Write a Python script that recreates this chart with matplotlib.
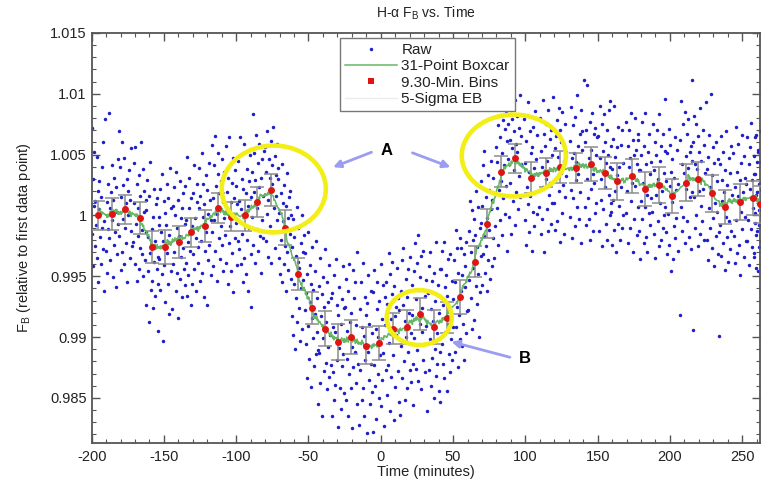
import matplotlib
matplotlib.use("Agg")
import matplotlib.pyplot as plt
import numpy as np
from matplotlib.patches import Ellipse
from matplotlib.lines import Line2D
from matplotlib.ticker import MultipleLocator, FuncFormatter

plt.rcParams["font.family"] = ["Liberation Sans", "DejaVu Sans"]
plt.rcParams["mathtext.fontset"] = "custom"
plt.rcParams["mathtext.rm"] = "Liberation Sans"
plt.rcParams["axes.unicode_minus"] = False

# 9.30-minute bins (time in minutes, relative flux, 5-sigma half error)
bin_times = [-195.6, -186.0, -176.7, -166.8, -158.0, -149.5, -139.8, -131.0, -121.8, -112.6,
             -103.3, -94.1, -85.3, -75.6, -66.4, -57.2, -47.9, -38.8, -29.6, -20.3,
             -10.4, -1.1, 8.3, 17.8, 27.0, 36.7, 45.7, 55.1, 65.0, 73.8,
             83.5, 92.8, 103.7, 114.2, 123.9, 135.0, 145.1, 155.0, 163.3, 174.0,
             182.7, 192.4, 201.2, 211.1, 219.7, 229.4, 238.4, 248.4, 257.7, 262.3]
bin_flux = [1.0000, 1.0001, 1.0005, 0.9998, 0.9974, 0.9974, 0.9978, 0.9986, 0.9991, 1.0006,
            0.9999, 1.0000, 1.0011, 1.0021, 0.9990, 0.9952, 0.9924, 0.9907, 0.9896, 0.9900,
            0.9893, 0.9895, 0.9907, 0.9908, 0.9919, 0.9908, 0.9916, 0.9933, 0.9962, 0.9993,
            1.0036, 1.0047, 1.0031, 1.0035, 1.0040, 1.0039, 1.0042, 1.0035, 1.0028, 1.0032,
            1.0022, 1.0025, 1.0016, 1.0027, 1.0030, 1.0018, 1.0007, 1.0011, 1.0014, 1.0009]
bin_err = [0.0012, 0.0013, 0.0012, 0.0013, 0.0013, 0.0014, 0.0013, 0.0012, 0.0013, 0.0012,
           0.0012, 0.0013, 0.0012, 0.0013, 0.0014, 0.0013, 0.0013, 0.0014, 0.0015, 0.0014,
           0.0015, 0.0014, 0.0013, 0.0014, 0.0013, 0.0014, 0.0013, 0.0014, 0.0013, 0.0012,
           0.0013, 0.0012, 0.0013, 0.0012, 0.0013, 0.0012, 0.0014, 0.0013, 0.0015, 0.0014,
           0.0014, 0.0015, 0.0014, 0.0015, 0.0014, 0.0015, 0.0014, 0.0015, 0.0014, 0.0015]

# raw points, per bin, as offsets from the bin value in units of 1e-4
raw_offsets = [
    [72, -15, 30, -42, 8, 52, -25, 12, -8, 48, -35, 20, -55, 5, 28, -18, -40, 15, 40, -10, -28, 60, -5, -62],
    [78, -30, 10, -48, 25, -12, 83, -20, 5, -38, 18, -5, 40, -52, 12, -25, 30, -15, -60, 22, 2, -33, 45, -8],
    [64, -22, 35, -50, 10, 55, -35, -8, 20, -45, 42, -15, 5, -28, 25, -60, 15, -5, 32, -40, 8, -18, 50, -30],
    [-20, 45, 12, -38, 58, -5, -52, 28, -15, 8, 35, -42, -25, 18, 62, -10, -30, 40, -48, 5, 22, -35, 15, -12],
    [30, -48, 55, -20, 8, -62, 42, -5, 70, -35, 15, -28, 25, -50, 48, -12, 5, -40, 35, -18, 40, -8, -30, 18],
    [-69, 25, -10, 48, -35, 12, 60, -22, 5, -77, 38, -15, 28, -45, 18, 52, -5, -30, 40, -55, 10, 65, -20, 32],
    [-55, 30, -18, 45, -8, 22, -40, 58, -25, 12, -62, 35, 5, -30, 50, -12, 20, -45, 28, -5, 40, -22, 15, -35],
    [38, -25, 10, -52, 62, -8, -35, 20, 45, -15, -60, 28, 5, -42, 32, -18, 55, -30, 12, -5, -48, 25, 40, -12],
    [-30, 48, 15, -45, 25, -12, 60, -38, 8, 35, -58, 18, -20, 42, -5, -65, 30, 10, -28, 52, -15, 22, -40, 5],
    [52, -20, 8, -48, 35, -10, 59, -35, 18, -5, -60, 28, 45, -25, 12, -42, 22, -15, 40, -30, 5, -52, 30, -8],
    [-15, 58, -38, 20, 5, -55, 32, -22, 65, -8, 12, -45, 28, -30, 48, -62, 15, 38, -18, -5, 25, -40, 10, -20],
    [45, -28, 12, 64, -40, 5, -15, 30, -55, 22, 59, -35, -8, 18, -48, 38, -20, 8, -62, 28, -10, 50, -32, 15],
    [-86, 25, -12, 72, -35, 40, 8, -50, 18, 55, -22, -5, 32, -40, 12, 48, -28, 20, -58, 35, -15, 5, -30, 42],
    [35, -42, 15, -20, 48, -8, -55, 25, 10, -30, 40, -60, 20, 5, -35, 52, -15, 28, -48, 12, -5, 38, -25, 18],
    [40, -25, 12, -38, 28, -10, 52, -45, 5, 20, -30, 35, -15, -52, 18, 45, -20, 8, -35, 25, -5, 30, -42, 10],
    [-35, 22, -50, 45, -8, 30, -62, 15, -20, 55, -40, 10, 38, -28, 5, -55, 25, -12, 48, -45, 18, -5, 32, -30],
    [45, -30, 12, -58, 28, -15, 62, -42, 5, 35, -65, 20, -8, 50, -25, 15, -48, 30, -5, -38, 55, -20, 8, -35],
    [-62, 35, -20, 58, -45, 10, 28, -72, 42, -8, 18, -35, 65, -28, 5, -50, 38, -15, 22, -40, 52, -5, -30, 25],
    [-61, 40, -25, 12, 55, -48, 8, -35, 68, -15, 30, -70, 22, -5, 45, -38, 15, -55, 35, -20, 62, -10, -42, 28],
    [25, -52, 48, -18, 5, -65, 38, -30, 60, 12, -42, 20, -8, -75, 55, -25, 32, -12, 45, -38, 10, -55, 70, -22],
    [-65, 30, -20, 52, -45, 15, 68, -35, 8, -58, 40, -12, 25, -72, 35, -5, 58, -28, 18, -48, 45, -15, 10, -38],
    [-73, 42, -18, 60, -35, 12, -62, 28, 50, -25, 5, -45, 35, -10, 65, -52, 20, -30, 48, -8, -68, 38, 15, -22],
    [38, -55, 20, -30, 62, -12, 45, -68, 8, -40, 28, 55, -22, -75, 35, 10, -48, 18, -5, 50, -35, 25, -60, 15],
    [-72, 30, -15, 55, -42, 18, 65, -28, 5, -60, 40, -8, 25, -50, 48, -20, 12, -35, 58, -5, -45, 35, 10, -30],
    [-75, 35, -20, 58, -45, 12, 42, -30, 65, -55, 20, -8, 30, -62, 48, -15, 5, -38, 52, -25, 15, -48, 28, -10],
    [-69, 28, -35, 50, -10, 62, -48, 15, 38, -25, 5, -58, 45, -18, 22, -40, 70, -5, -30, 35, -52, 12, 48, -20],
    [-69, 40, -22, 55, -38, 10, 62, -50, 25, -12, 35, -60, 18, -5, 48, -30, 8, -45, 52, -18, 30, -35, 15, -8],
    [30, -45, 12, 55, -25, -8, 40, -58, 20, -15, 48, -35, 5, 40, -40, 18, -22, 35, -52, 8, 25, -30, 45, -12],
    [-40, 25, -15, 50, -30, 8, 42, -55, 18, -5, 35, -48, 22, -20, 58, -35, 12, -10, 45, -62, 28, -25, 5, 32],
    [35, -50, 15, -25, 48, -10, 60, -40, 22, -18, 5, -55, 40, -30, 28, -5, -45, 52, 12, -35, 20, -12, 38, -28],
    [-45, 20, 55, -30, 8, -60, 38, -15, 28, -40, 62, -8, 15, -52, 42, -22, 5, 35, -35, 48, -12, -65, 25, 10],
    [28, -48, 15, -20, 40, -62, 8, 32, -35, 22, -10, 48, -55, 12, -28, 35, 5, -42, 25, -15, 52, -32, 18, -5],
    [48, -35, 12, -55, 30, -8, 62, -22, 5, -45, 38, -15, 20, -60, 25, 42, -28, 8, -40, 55, -12, 15, -30, 35],
    [-28, 45, -50, 18, 5, -38, 60, -12, 32, -65, 22, -5, 40, -30, 10, -48, 52, -18, 28, -8, -42, 35, 15, -25],
    [57, -30, 15, -52, 25, -10, 38, -45, 8, 48, -20, -62, 30, -5, 20, -38, 45, -15, 5, -55, 35, -25, 12, -8],
    [-40, 22, 50, -18, 8, -58, 35, -25, 12, 42, -48, 5, -10, 60, -32, 18, -5, -42, 28, -20, 48, -62, 30, 15],
    [69, -35, 18, -50, 28, -12, 65, -28, 5, -45, 35, -62, 12, -20, 42, -8, -55, 25, -15, 30, -40, 8, -32, 22],
    [30, -48, 12, 55, -22, -5, 40, -60, 18, -30, 48, -12, 25, -42, 8, 35, -55, 15, -18, 52, -35, 5, -25, 22],
    [66, -25, 10, -52, 35, -15, 62, -40, 20, -8, -58, 28, 5, -35, 45, -20, 12, -48, 30, -5, -38, 42, -28, 15],
    [-30, 45, -12, 25, -55, 8, 38, -42, 15, 52, -20, -5, 30, -62, 18, -35, 48, -8, 22, -48, 10, 35, -25, 5],
    [40, -35, 15, -58, 28, -10, 55, -25, 5, -45, 35, -15, 62, -40, 20, -5, -52, 30, -20, 45, -30, 12, -8, 22],
    [-22, 50, -40, 12, 35, -60, 25, -8, 45, -30, 5, -50, 58, -15, 20, -45, 32, -5, 42, -35, 10, -25, 28, -18],
    [80, -30, 12, -48, 35, -15, 55, -40, 8, 42, -62, 20, -5, 30, -52, 15, -25, 48, -35, 5, -18, 38, -45, 10],
    [-109, 35, -20, 67, -40, 15, 48, -28, 8, 58, -50, 22, -5, 40, -32, 12, 52, -45, 25, -12, 30, -55, 18, -8],
    [81, -124, 30, -15, 52, -40, 12, 45, -30, 8, -55, 35, -10, 22, -45, 58, -22, 15, -35, 40, -8, -50, 28, 5],
    [75, -38, 20, -55, 30, -12, 48, -28, 5, 82, -45, 15, -20, 38, -60, 25, -8, -35, 42, -15, 10, -50, 28, -32],
    [-106, 35, -15, 58, -40, 22, 5, 45, -30, 12, -52, 30, -8, 62, -25, 18, -45, 40, -12, 28, -35, 50, -20, 10],
    [40, -28, 12, -50, 62, -15, 25, -42, 5, 48, -35, 18, -60, 32, -8, 55, -22, 8, -45, 38, -12, 20, -32, 15],
    [-35, 50, -18, 28, -55, 8, 42, -25, 62, -40, 15, -8, 35, -48, 20, -12, 52, -30, 5, -60, 38, 12, -22, 30],
    [25, -40, 55, -15, 8, -52, 35, -22, 45, -5, -35, 18, 60, -30, 12, -48, 28, -10, 40, -58, 20, -18, 5, 30],
]

BIN_WIDTH = 9.30
BOXCAR = 31

# assemble the raw series: points spread evenly over each bin
raw_t, raw_f = [], []
for tc, fc, offs in zip(bin_times, bin_flux, raw_offsets):
    n = len(offs)
    raw_t.extend(np.linspace(tc - BIN_WIDTH / 2, tc + BIN_WIDTH / 2, n, endpoint=False) + BIN_WIDTH / (2 * n))
    raw_f.extend(fc + np.array(offs) * 1e-4)
raw_t = np.array(raw_t)
raw_f = np.array(raw_f)

kernel = np.ones(BOXCAR) / BOXCAR
box_t = np.convolve(raw_t, kernel, mode="valid")
box_f = np.convolve(raw_f, kernel, mode="valid")

fig = plt.figure(figsize=(7.7, 4.83), dpi=100)
ax = fig.add_axes([0.119, 0.083, 0.868, 0.849])

ax.plot(raw_t, raw_f, linestyle="none", marker="o", ms=2.5, mew=0,
        color="#1f1fc8", zorder=2)
ax.errorbar(bin_times, bin_flux, yerr=bin_err, fmt="none", ecolor="#8c8c8c",
            elinewidth=1.1, capsize=4.8, capthick=1.1, zorder=3)
ax.plot(box_t, box_f, color="#66b866", lw=1.1, zorder=4)
ax.plot(bin_times, bin_flux, linestyle="none", marker="o", ms=5, mew=0,
        color="#e01414", zorder=5)

# highlighted regions
yellow = "#f3ee16"
for (cx, cy, w, h) in [(-74.0, 1.00217, 72, 0.00713), (92.0, 1.00492, 72, 0.00672),
                       (26.6, 0.99160, 45, 0.00451)]:
    ax.add_patch(Ellipse((cx, cy), w, h, fill=False, ec=yellow, lw=3.3, zorder=6))

arrow_kw = dict(arrowstyle="-|>", color="#9c9cf2", lw=2.0, mutation_scale=11,
                shrinkA=0, shrinkB=0)
ax.annotate("", xy=(-33.0, 1.00396), xytext=(-6.4, 1.00519), arrowprops=arrow_kw, zorder=7)
ax.annotate("", xy=(48.2, 1.00396), xytext=(21.9, 1.00514), arrowprops=arrow_kw, zorder=7)
ax.annotate("", xy=(48.9, 0.98961), xytext=(89.3, 0.98834), arrowprops=arrow_kw, zorder=7)
ax.text(3.9, 1.00533, "A", fontsize=12, fontweight="bold", ha="center", va="center")
ax.text(99.7, 0.98820, "B", fontsize=12, fontweight="bold", ha="center", va="center")

ax.set_xlim(-200, 262.3)
ax.set_ylim(0.9813, 1.015)
ax.xaxis.set_major_locator(MultipleLocator(50))
ax.xaxis.set_minor_locator(MultipleLocator(10))
ax.yaxis.set_major_locator(MultipleLocator(0.005))
ax.yaxis.set_minor_locator(MultipleLocator(0.001))
ax.yaxis.set_major_formatter(FuncFormatter(lambda v, p: "%g" % round(v, 4)))
ax.tick_params(which="both", direction="in", top=True, right=True,
               color="#555555", labelsize=10.5, labelcolor="#222222")
ax.tick_params(which="major", length=6, width=1)
ax.tick_params(which="minor", length=3, width=0.8)
ax.tick_params(axis="x", pad=5)
for s in ax.spines.values():
    s.set_color("#555555")
    s.set_linewidth(1.3)

ax.set_title(r"H-α F$_\mathrm{B}$ vs. Time", fontsize=10, pad=11, color="#222222")
ax.set_xlabel("Time (minutes)", fontsize=10.5, color="#222222", labelpad=1)
ax.set_ylabel(r"F$_\mathrm{B}$ (relative to first data point)", fontsize=10.5,
              color="#222222", labelpad=12)

handles = [
    Line2D([], [], linestyle="none", marker="o", ms=2.5, mew=0, color="#1f1fc8"),
    Line2D([], [], color="#66b866", lw=1.1),
    Line2D([], [], linestyle="none", marker="s", ms=4, mew=0, color="#e01414"),
    Line2D([], [], color="#ececec", lw=1.0),
]
labels = ["Raw", "31-Point Boxcar", "9.30-Min. Bins", "5-Sigma EB"]
leg = ax.legend(handles, labels, loc="upper left", bbox_to_anchor=(0.371, 0.988),
                fontsize=11, frameon=True, fancybox=False, edgecolor="#777777",
                framealpha=1, handlelength=3.4, handletextpad=0.3,
                labelspacing=0.15, borderpad=0.35, borderaxespad=0)
leg.get_frame().set_linewidth(1.0)
for t in leg.get_texts():
    t.set_color("#222222")

fig.savefig("out.png", dpi=100)
